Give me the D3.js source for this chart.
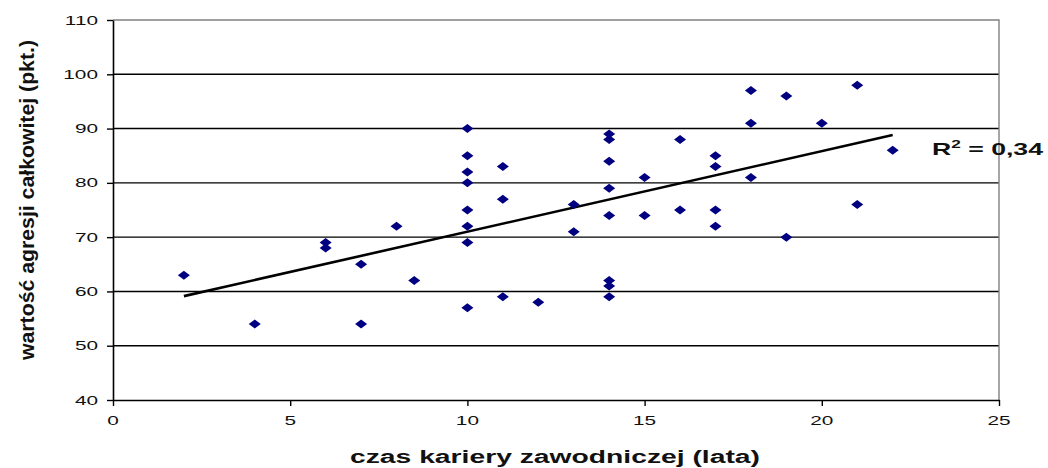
<!DOCTYPE html>
<html>
<head>
<meta charset="utf-8">
<script src="https://cdn.jsdelivr.net/npm/d3@7"></script>
<style>
  body { margin: 0; background: #fff; }
  text { font-family: Arial, "Liberation Sans", sans-serif; }
</style>
</head>
<body>
<svg id="chart"></svg>
<script>
// career length (years) vs total aggression score
var careerYears = [2, 4, 6, 6, 7, 7, 8, 8.5,
    10, 10, 10, 10, 10, 10, 10, 10,
    11, 11, 11, 12, 13, 13,
    14, 14, 14, 14, 14, 14, 14, 14,
    15, 15, 16, 16, 17, 17, 17, 17,
    18, 18, 18, 19, 19, 20, 21, 21, 22];
var aggression = [63, 54, 69, 68, 65, 54, 72, 62,
    90, 85, 82, 80, 75, 72, 69, 57,
    83, 77, 59, 58, 76, 71,
    89, 88, 84, 79, 74, 62, 61, 59,
    81, 74, 88, 75, 85, 83, 75, 72,
    97, 91, 81, 96, 70, 91, 98, 76, 86];
var xTicks = [0, 5, 10, 15, 20, 25];
var yTicks = [40, 50, 60, 70, 80, 90, 100, 110];
var r2Label = "0,34";

var width = 1048,
    height = 468,
    margin = {top: 20, right: 49, bottom: 68, left: 113};

var stretch = 1.6; // text in the picture is wider than it is tall

var svg = d3.select("#chart")
    .attr("width", width)
    .attr("height", height);

var x = d3.scaleLinear()
    .domain([0, 25])
    .range([margin.left, width - margin.right]);

var y = d3.scaleLinear()
    .domain([40, 110])
    .range([height - margin.bottom, margin.top]);

// horizontal grid lines
svg.append("g")
  .selectAll("line")
    .data(yTicks.filter(function(d) { return d > 40 && d < 110; }))
  .enter().append("line")
    .attr("x1", x(0))
    .attr("x2", x(25))
    .attr("y1", function(d) { return y(d); })
    .attr("y2", function(d) { return y(d); })
    .style("stroke", "#000")
    .style("stroke-width", 1.4);

// plot border top and right
svg.append("path")
    .attr("d", "M" + x(0) + "," + y(110) + "H" + x(25) + "V" + y(40))
    .style("fill", "none")
    .style("stroke", "#808080")
    .style("stroke-width", 1.4);

// axes
var xAxis = svg.append("g")
    .attr("transform", "translate(0," + y(40) + ")")
    .call(d3.axisBottom(x).tickValues(xTicks).tickSize(6).tickSizeOuter(0));
var yAxis = svg.append("g")
    .attr("transform", "translate(" + x(0) + ",0)")
    .call(d3.axisLeft(y).tickValues(yTicks).tickSize(6).tickSizeOuter(0));

[xAxis, yAxis].forEach(function(ax) {
  ax.select(".domain").style("stroke", "#000").style("stroke-width", 1.6);
  ax.selectAll(".tick line").style("stroke", "#000").style("stroke-width", 1.4);
  ax.selectAll(".tick text").remove();
});

// tick labels, drawn stretched like the original
svg.append("g")
  .selectAll("text")
    .data(xTicks)
  .enter().append("text")
    .attr("transform", function(d) { return "translate(" + x(d) + "," + (y(40) + 25) + ") scale(" + stretch + ",1)"; })
    .attr("text-anchor", "middle")
    .style("font-size", "13px")
    .style("fill", "#111")
    .text(function(d) { return d; });

svg.append("g")
  .selectAll("text")
    .data(yTicks)
  .enter().append("text")
    .attr("transform", function(d) { return "translate(" + (x(0) - 15) + "," + (y(d) + 4.5) + ") scale(" + stretch + ",1)"; })
    .attr("text-anchor", "end")
    .style("font-size", "13px")
    .style("fill", "#111")
    .text(function(d) { return d; });

// linear trend (least squares)
var n = careerYears.length;
var mx = d3.mean(careerYears), my = d3.mean(aggression);
var sxy = 0, sxx = 0;
for (var i = 0; i < n; i++) {
  sxy += (careerYears[i] - mx) * (aggression[i] - my);
  sxx += (careerYears[i] - mx) * (careerYears[i] - mx);
}
var slope = sxy / sxx, intercept = my - slope * mx;
var xMin = d3.min(careerYears), xMax = d3.max(careerYears);

svg.append("line")
    .attr("x1", x(xMin))
    .attr("y1", y(intercept + slope * xMin))
    .attr("x2", x(xMax))
    .attr("y2", y(intercept + slope * xMax))
    .style("stroke", "#000")
    .style("stroke-width", 2.6);

// points
var points = careerYears.map(function(d, i) { return [d, aggression[i]]; });
svg.append("g")
  .selectAll("path")
    .data(points)
  .enter().append("path")
    .attr("transform", function(d) { return "translate(" + x(d[0]) + "," + y(d[1]) + ")"; })
    .attr("d", "M0,-4.5L6,0L0,4.5L-6,0Z")
    .style("fill", "#000080");

// R squared label
var r2 = svg.append("text")
    .attr("x", 932)
    .attr("y", 155)
    .attr("textLength", 111)
    .attr("lengthAdjust", "spacingAndGlyphs")
    .style("font-size", "17px")
    .style("font-weight", "bold")
    .style("fill", "#111");
r2.append("tspan").text("R");
r2.append("tspan").attr("dy", -7).style("font-size", "11px").text("2");
r2.append("tspan").attr("dy", 7).text(" = " + r2Label);

// axis titles
svg.append("text")
    .attr("x", 555)
    .attr("y", 463)
    .attr("text-anchor", "middle")
    .attr("textLength", 410)
    .attr("lengthAdjust", "spacingAndGlyphs")
    .style("font-size", "18px")
    .style("font-weight", "bold")
    .style("fill", "#111")
    .text("czas kariery zawodniczej (lata)");

svg.append("text")
    .attr("transform", "translate(34,200) rotate(-90)")
    .attr("text-anchor", "middle")
    .attr("textLength", 320)
    .attr("lengthAdjust", "spacingAndGlyphs")
    .style("font-size", "20px")
    .style("font-weight", "bold")
    .style("fill", "#111")
    .text("wartość agresji całkowitej (pkt.)");
</script>
</body>
</html>
